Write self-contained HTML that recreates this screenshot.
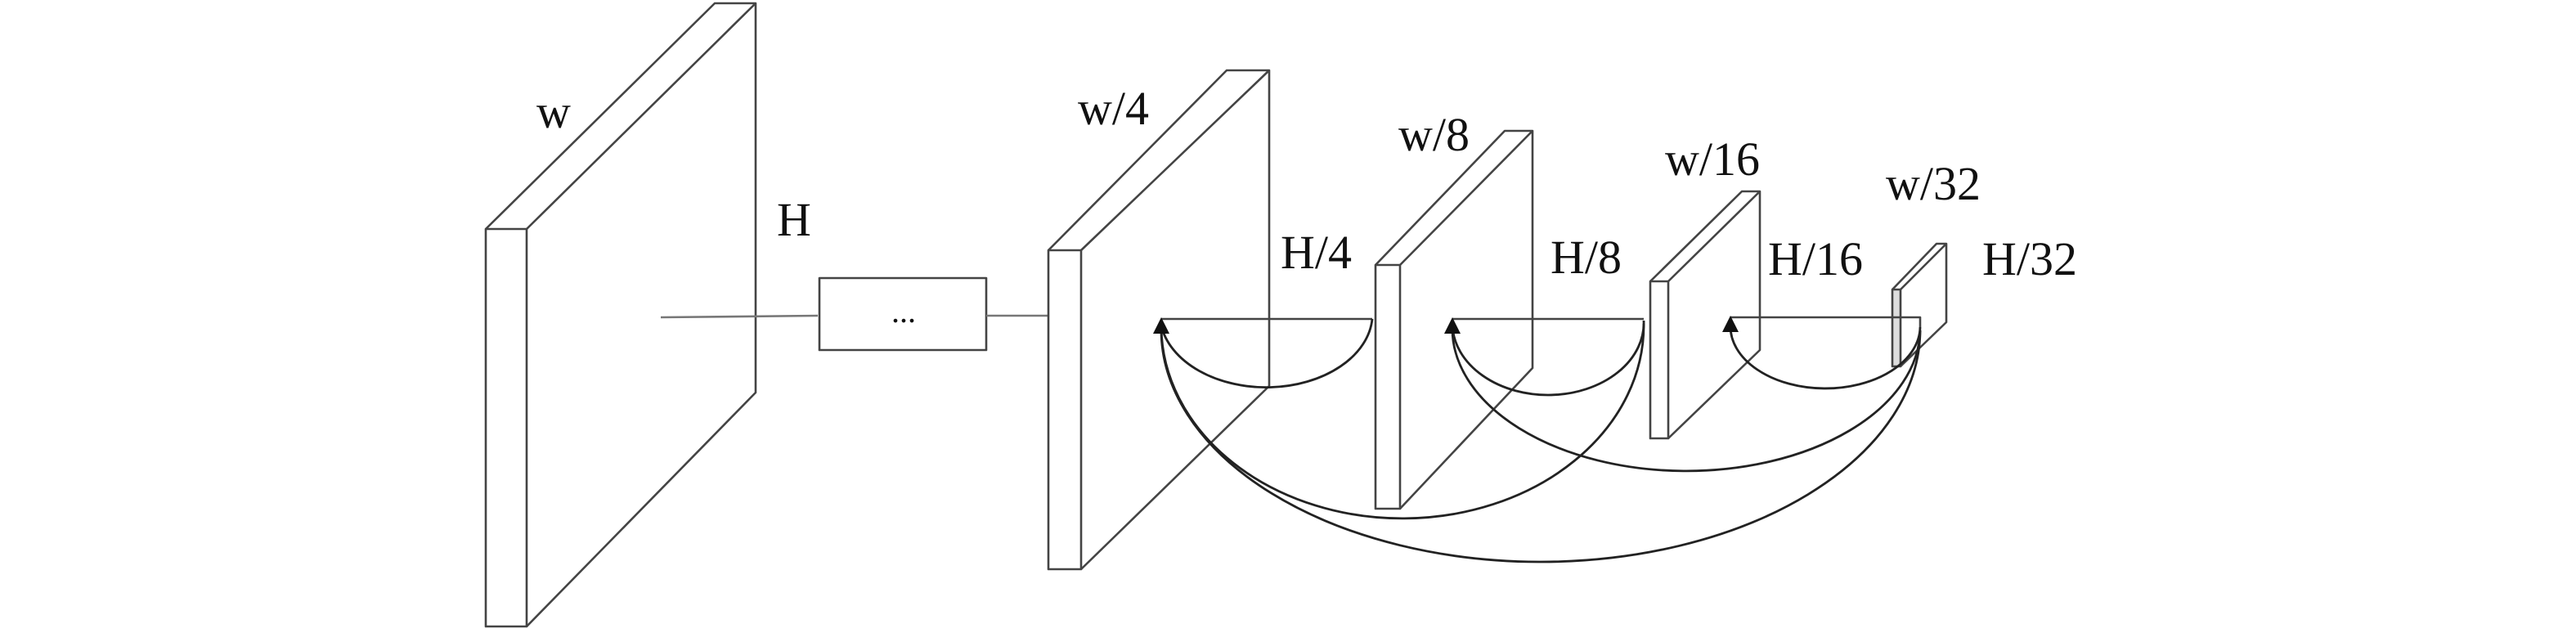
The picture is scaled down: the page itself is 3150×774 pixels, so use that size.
<!DOCTYPE html>
<html><head><meta charset="utf-8"><style>
html,body{margin:0;padding:0;background:#fff;}
svg{display:block;}
text{font-family:"Liberation Serif",serif;font-size:29px;fill:#111;}
</style></head><body>
<svg width="3150" height="774" viewBox="0 0 1575 387" xmlns="http://www.w3.org/2000/svg">
<g fill="none" stroke="#444" stroke-width="1.3" stroke-linejoin="round">
<rect x="297" y="140" width="25" height="243" fill="#fff"/>
<path d="M297,140 L437,2 L462,2 L322,140 M462,2 L462,240 L322,383"/>
<path d="M404,194 L500,193" stroke="#777"/>
<rect x="501" y="170" width="102" height="44" fill="#fff"/>
<path d="M603,193 L641,193" stroke="#777"/>
<rect x="641" y="153" width="20" height="195" fill="#fff"/>
<path d="M641,153 L750,43 L776,43 L661,153 M776,43 L776,236 L661,348"/>
<rect x="841" y="162" width="15" height="149" fill="#fff"/>
<path d="M841,162 L920,80 L937,80 L856,162 M937,80 L937,225 L856,311"/>
<rect x="1009" y="172" width="11" height="96" fill="#fff"/>
<path d="M1009,172 L1065,117 L1076,117 L1020,172 M1076,117 L1076,214 L1020,268"/>
<rect x="1157" y="177" width="5" height="47" fill="#ddd"/>
<path d="M1157,177 L1184,149 L1190,149 L1162,177 M1190,149 L1190,197 L1162,224"/>
<path d="M710,195 L839,195"/>
<path d="M888,195 L1005,195"/>
<path d="M1058,194 L1174,194 L1174,200"/>
</g>
<g fill="none" stroke="#222" stroke-width="1.4">
<path d="M839,195 A65,45 0 0 1 710,199"/>
<path d="M1005,196 A58.5,44 0 0 1 888,199"/>
<path d="M1174,200 A58,38 0 0 1 1058,199"/>
<path d="M1005,198 A147.5,118 0 0 1 710,200"/>
<path d="M1174,202 A143,87 0 0 1 888,200"/>
<path d="M1174,202 A232,142 0 0 1 710,201"/>
</g>
<g fill="#111">
<path d="M710,194 L705,204 L715,204 Z"/>
<path d="M888,194 L883,204 L893,204 Z"/>
<path d="M1058,193 L1053,203 L1063,203 Z"/>
</g>
<text x="545" y="197" style="font-size:20px">...</text>
<text x="328" y="78">w</text>
<text x="475" y="144">H</text>
<text x="659" y="76">w/4</text>
<text x="783" y="164">H/4</text>
<text x="855" y="92">w/8</text>
<text x="948" y="167">H/8</text>
<text x="1018" y="107">w/16</text>
<text x="1081" y="168">H/16</text>
<text x="1153" y="122">w/32</text>
<text x="1212" y="168">H/32</text>
</svg>
</body></html>
